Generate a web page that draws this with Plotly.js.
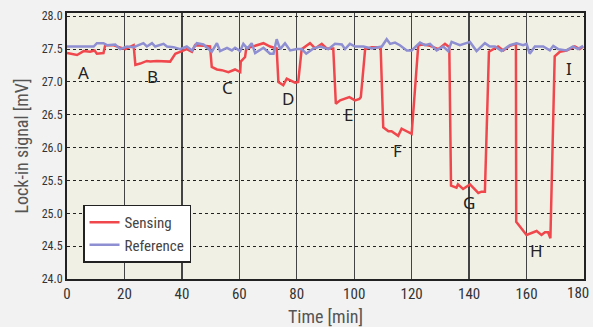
<!DOCTYPE html>
<html>
<head>
<meta charset="utf-8">
<script src="https://cdn.plot.ly/plotly-3.0.1.min.js"></script>
<style>html,body{margin:0;padding:0;background:#f2f2f2;}#chart{width:593px;height:327px;}</style>
</head>
<body>
<div id="chart"></div>
<script>
// Sensing (red) trace
const sensingTime = [0, 3.5, 5.8, 8, 9.6, 10.4, 12.7, 13.3, 16, 17.9, 20.3, 23.2, 23.8, 25.5, 27.8, 29, 31.3, 35.9, 37.7, 40, 41.7, 43.5, 44.6, 47.5, 49.8, 50.4, 52.2, 53.9, 56.2, 58.5, 60.3, 60.5, 62, 62.4, 64.9, 68.4, 70.7, 73, 73.6, 75.3, 76.5, 77.7, 79.4, 80.5, 81.7, 84.6, 86.4, 88.7, 90.4, 92.7, 93.6, 95.1, 96.8, 98.3, 100.3, 101.8, 102.3, 103.8, 106.1, 109.2, 110.1, 111.9, 113, 115.3, 116.5, 118.3, 120, 122.3, 124, 126.4, 129.3, 131.6, 133.1, 133.7, 135.6, 136.1, 137.9, 140.3, 142, 143.2, 144.3, 145.5, 146.9, 150.1, 151.9, 154.2, 156.3, 156.4, 160, 163.5, 165.2, 166.4, 167.5, 168.3, 169.8, 171.6, 173.9, 176.8, 178.5, 179.7];
const sensingValue = [27.44, 27.41, 27.47, 27.46, 27.48, 27.43, 27.44, 27.56, 27.56, 27.53, 27.5, 27.56, 27.26, 27.28, 27.32, 27.31, 27.32, 27.31, 27.43, 27.47, 27.5, 27.46, 27.56, 27.55, 27.54, 27.23, 27.19, 27.18, 27.15, 27.19, 27.15, 27.31, 27.38, 27.51, 27.54, 27.59, 27.54, 27.51, 27.0, 26.95, 27.05, 27.03, 26.99, 27.0, 27.5, 27.59, 27.51, 27.58, 27.51, 27.51, 26.67, 26.72, 26.75, 26.77, 26.72, 26.74, 26.77, 27.5, 27.53, 27.53, 26.31, 26.25, 26.25, 26.18, 26.29, 26.25, 26.21, 27.56, 27.57, 27.55, 27.5, 27.58, 27.53, 25.42, 25.39, 25.44, 25.37, 25.44, 25.37, 25.31, 25.33, 25.33, 27.46, 27.54, 27.48, 27.55, 27.58, 24.87, 24.67, 24.73, 24.67, 24.71, 24.71, 24.62, 27.39, 27.46, 27.48, 27.54, 27.5, 27.54];
// Reference (blue) trace
const referenceTime = [0, 9.3, 10.4, 12.7, 13.9, 16.8, 18.5, 20.9, 23.2, 26.6, 27.8, 29.6, 30.7, 33.6, 34.8, 37.1, 39.4, 41.7, 43.5, 45.2, 47.5, 49.3, 50.4, 52.2, 53.3, 55.7, 57.4, 58.5, 60.3, 61.4, 62.8, 64.3, 65.5, 68.4, 70.7, 71.9, 73, 74.2, 75.9, 77.7, 80, 81.7, 83.3, 85.8, 88.1, 91, 93.3, 95.7, 96.8, 98.5, 100.3, 103.2, 106.1, 109.6, 111.3, 112.5, 114.2, 115.9, 118.3, 120, 122.9, 124.6, 126.4, 128.7, 131, 132.7, 133.9, 136.8, 140.3, 142.6, 145.5, 147.2, 149, 151.3, 154.2, 156.5, 158.8, 160, 161.1, 162.9, 165.8, 168.1, 169.3, 171, 173.9, 176.2, 177.9, 179.7];
const referenceValue = [27.54, 27.54, 27.59, 27.59, 27.56, 27.57, 27.5, 27.54, 27.53, 27.59, 27.54, 27.59, 27.54, 27.58, 27.54, 27.53, 27.5, 27.54, 27.48, 27.59, 27.57, 27.51, 27.46, 27.59, 27.47, 27.52, 27.48, 27.52, 27.47, 27.58, 27.51, 27.59, 27.44, 27.52, 27.43, 27.43, 27.65, 27.5, 27.59, 27.48, 27.5, 27.5, 27.43, 27.51, 27.54, 27.5, 27.58, 27.57, 27.5, 27.58, 27.54, 27.54, 27.51, 27.54, 27.65, 27.58, 27.6, 27.56, 27.48, 27.48, 27.6, 27.56, 27.58, 27.48, 27.54, 27.47, 27.61, 27.56, 27.61, 27.47, 27.59, 27.54, 27.54, 27.47, 27.56, 27.59, 27.56, 27.58, 27.43, 27.54, 27.54, 27.48, 27.55, 27.5, 27.48, 27.54, 27.5, 27.55];
// Step labels
const stepLabels = ["A", "B", "C", "D", "E", "F", "G", "H", "I"];
const labelTime = [5.7, 29.7, 55.8, 77, 97.9, 115, 140, 163.3, 174.7];
const labelValue = [27.15, 27.09, 26.92, 26.75, 26.5, 25.95, 25.17, 24.44, 27.21];
const xTicks = [0, 20, 40, 60, 80, 100, 120, 140, 160, 180];
const xTickText = ["0", "20", "40", "60", "80", "100", "120", "140", "160", "180"];
const yTicks = [24.0, 24.5, 25.0, 25.5, 26.0, 26.5, 27.0, 27.5, 28.0];

const font = '"Liberation Sans Narrow", "Roboto Condensed", Roboto, sans-serif';

const traces = [
  {x: sensingTime, y: sensingValue, type: 'scatter', mode: 'lines', name: 'Sensing',
   line: {color: '#f0474d', width: 2.5}},
  {x: referenceTime, y: referenceValue, type: 'scatter', mode: 'lines', name: 'Reference',
   line: {color: '#8e8ed2', width: 2.5}}
];

const annotations = stepLabels.map((t, i) => ({
  x: labelTime[i], y: labelValue[i], xref: 'x', yref: 'y', text: t, showarrow: false,
  font: {family: '"Noto Sans", "Open Sans", sans-serif', size: 17, color: '#222'}
}));

// last tick label: drawn as an annotation nudged left so it stays on the page (as in the reference)
const lastIdx = xTicks.length - 1;
annotations.push({
  x: xTicks[lastIdx], y: 0, xref: 'x', yref: 'paper', text: xTickText[lastIdx],
  showarrow: false, xanchor: 'right', yanchor: 'top', xshift: 7, yshift: -3,
  font: {family: font, size: 15, color: '#333'}
});
const tickText = xTickText.map((s, i) => i === lastIdx ? '' : s);

const layout = {
  width: 593, height: 327,
  margin: {l: 67, r: 9, t: 13, b: 48},
  paper_bgcolor: '#f2f2f2',
  plot_bgcolor: '#f1f0e4',
  showlegend: true,
  legend: {x: 0.031, y: 0.28, xanchor: 'left', yanchor: 'top',
    bgcolor: '#ffffff', bordercolor: '#222', borderwidth: 1.5,
    entrywidth: 112, entrywidthmode: 'pixels',
    font: {family: font, size: 15, color: '#444'}, tracegroupgap: 0},
  xaxis: {range: [0, 180], tickvals: xTicks, ticktext: tickText,
    showgrid: true, gridcolor: '#444', gridwidth: 1.3, zeroline: false,
    showline: true, linecolor: '#222', linewidth: 2, mirror: true, ticks: '',
    ticklabeloverflow: 'allow',
    tickfont: {family: font, size: 15, color: '#333'},
    title: {text: 'Time [min]', font: {family: font, size: 18, color: '#555'}, standoff: 8}},
  yaxis: {range: [24.0, 28.05], tickvals: yTicks, ticktext: yTicks.map(v => v.toFixed(1)),
    showgrid: true, gridcolor: '#222', gridwidth: 1, griddash: '3px,3px', zeroline: false,
    showline: true, linecolor: '#222', linewidth: 2, mirror: true, ticks: '',
    ticklabeloverflow: 'allow',
    tickfont: {family: font, size: 12, color: '#333'},
    title: {text: 'Lock-in signal [mV]', font: {family: font, size: 18, color: '#555'}, standoff: 8}},
  annotations: annotations
};

Plotly.newPlot('chart', traces, layout, {displayModeBar: false, staticPlot: true});
</script>
</body>
</html>
